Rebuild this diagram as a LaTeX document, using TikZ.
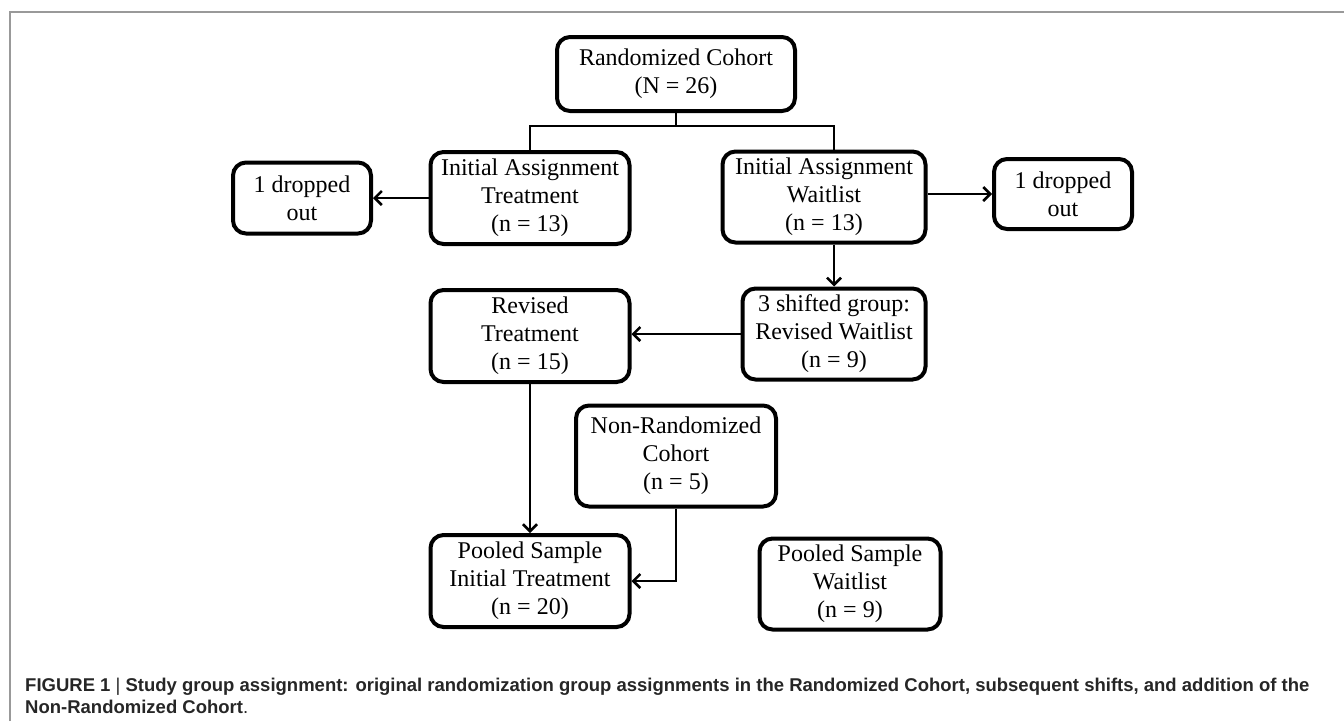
\documentclass[tikz,border=0pt]{standalone}
\usepackage{fontspec}
\setmainfont{Liberation Serif}
\newfontfamily\capfont{Liberation Sans}
\usetikzlibrary{arrows.meta}

\begin{document}
\begin{tikzpicture}[x=1pt, y=-1pt,
    box/.style={draw, line width=4pt, rounded corners=13pt, align=center, inner sep=0pt,
      font=\fontsize{24}{28}\selectfont},
    link/.style={line width=2.5pt},
    >={Straight Barb[length=7pt,width=14pt]}]
    \useasboundingbox (0,0) rectangle (1344,721);
    \draw[black!40, line width=1.5pt] (10,721) -- (10,12) -- (1344,12);
    \node[box, minimum width=238pt, minimum height=74pt] (rc) at (676,74) {Randomized Cohort\\(N = 26)};
    \node[box, minimum width=199pt, minimum height=92pt] (iat) at (530,198) {Initial Assignment\\Treatment\\(n = 13)};
    \node[box, minimum width=203pt, minimum height=91pt] (iaw) at (824,197) {Initial Assignment\\Waitlist\\(n = 13)};
    \node[box, minimum width=138pt, minimum height=71pt] (dl) at (302,198) {1 dropped\\out};
    \node[box, minimum width=138pt, minimum height=70pt] (dr) at (1063,194) {1 dropped\\out};
    \node[box, minimum width=183pt, minimum height=91pt] (sw) at (834,334) {3 shifted group:\\Revised Waitlist\\(n = 9)};
    \node[box, minimum width=199pt, minimum height=92pt] (rt) at (530,336) {Revised\\Treatment\\(n = 15)};
    \node[box, minimum width=200pt, minimum height=101pt] (nrc) at (676,456) {Non-Randomized\\Cohort\\(n = 5)};
    \node[box, minimum width=199pt, minimum height=92pt] (pit) at (530,581) {Pooled Sample\\Initial Treatment\\(n = 20)};
    \node[box, minimum width=181pt, minimum height=91pt] (pwl) at (850,584) {Pooled Sample\\Waitlist\\(n = 9)};
    \coordinate (split) at (676,126);
    \draw[link] (rc.south) -- (split);
    \draw[link] (iat.north) |- (split) -| (sw.north |- iaw.north);
    \draw[link,->] (iat.west) -- (dl.east);
    \draw[link,->] (iaw.east |- dr.west) -- (dr.west);
    \draw[link,->] (sw.north |- iaw.south) -- (sw.north);
    \draw[link,->] (sw.west) -- (sw.west -| rt.east);
    \draw[link,->] (rt.south) -- (pit.north);
    \draw[link,->] (nrc.south) |- (pit.east);
    \node[anchor=north west, align=left, inner sep=0pt, text=black!85,
      font=\capfont\bfseries\fontsize{18.5}{22}\selectfont] (cap) at (25,678)
      {FIGURE 1 {\mdseries|} Study group assignment: original randomization group assignments in the Randomized Cohort, subsequent shifts, and addition of the\\
       Non-Randomized Cohort{\mdseries.}};
\end{tikzpicture}
\end{document}
